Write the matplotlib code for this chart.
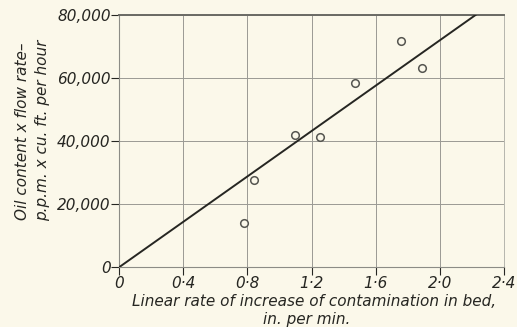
import matplotlib
matplotlib.use("Agg")
import matplotlib.pyplot as plt

# data
rate = [0.78, 0.84, 1.10, 1.25, 1.47, 1.76, 1.89]
oil_flow = [14100, 27600, 41900, 41400, 58500, 71700, 63000]

# fitted straight line through origin
fit_x = [0.0, 2.225]
fit_y = [0, 80000]

x_ticks = [0, 0.4, 0.8, 1.2, 1.6, 2.0, 2.4]
x_labels = ["0", "0·4", "0·8", "1·2", "1·6", "2·0", "2·4"]
y_ticks = [0, 20000, 40000, 60000, 80000]
y_labels = ["0", "20,000", "40,000", "60,000", "80,000"]

bg = "#fbf8ea"
ink = "#262622"

plt.rcParams['font.family'] = ['DejaVu Sans']
plt.rcParams['font.style'] = 'italic'

fig = plt.figure(figsize=(5.17, 3.27), dpi=100, facecolor=bg)
ax = fig.add_axes([0.2302, 0.1826, 0.7447, 0.7724], facecolor=bg)

ax.plot(fit_x, fit_y, color=ink, lw=1.4, zorder=3)
ax.scatter(rate, oil_flow, s=30, facecolors=bg, edgecolors="#555550", linewidths=1.1, zorder=4)

ax.set_xlim(0, 2.4)
ax.set_ylim(0, 80000)
ax.set_xticks(x_ticks)
ax.set_xticklabels(x_labels, fontsize=11)
ax.set_yticks(y_ticks)
ax.set_yticklabels(y_labels, fontsize=11)
ax.tick_params(axis='both', direction='out', length=6, width=0.8, color=ink, labelcolor=ink, pad=0)

ax.grid(True, color="#9a9a94", lw=0.7)
for s in ['left', 'bottom']:
    ax.spines[s].set_color("#8c8c86")
    ax.spines[s].set_linewidth(0.8)
ax.spines['right'].set_color("#b5b5ae")
ax.spines['right'].set_linewidth(0.7)
ax.spines['top'].set_color("#6a6a64")
ax.spines['top'].set_linewidth(1.4)

fig.text(0.607, 0.079, "Linear rate of increase of contamination in bed,", ha='center', va='center',
         fontsize=11, color=ink)
fig.text(0.594, 0.024, "in. per min.", ha='center', va='center', fontsize=11, color=ink)
fig.text(0.043, 0.60, "Oil content x flow rate–", rotation=90, ha='center', va='center',
         fontsize=11, color=ink)
fig.text(0.082, 0.60, "p.p.m. x cu. ft. per hour", rotation=90, ha='center', va='center',
         fontsize=11, color=ink)

fig.savefig("out.png", dpi=100, facecolor=bg)
